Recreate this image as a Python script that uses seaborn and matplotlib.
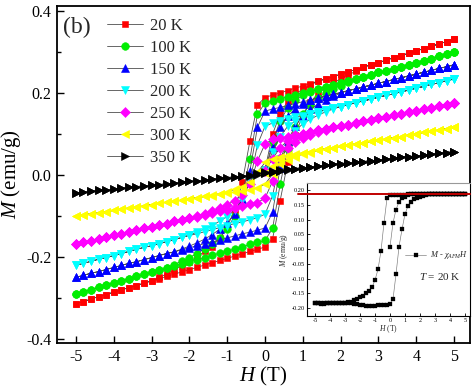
import matplotlib
matplotlib.use("Agg")
import matplotlib.pyplot as plt
import numpy as np
import pandas as pd
import seaborn as sns
from matplotlib.ticker import MultipleLocator, FormatStrFormatter

sns.set_theme(style="ticks")
plt.rcParams['font.family'] = ['Liberation Serif', 'DejaVu Serif']
plt.rcParams['mathtext.fontset'] = 'custom'
plt.rcParams['mathtext.rm'] = 'Liberation Serif'
plt.rcParams['mathtext.it'] = 'Liberation Serif:italic'
plt.rcParams['mathtext.bf'] = 'Liberation Serif:bold'
plt.rcParams['axes.unicode_minus'] = False

# ---------------- data ----------------
H_UP = [-5.0, -4.8, -4.6, -4.4, -4.2, -4.0, -3.8, -3.6, -3.4, -3.2, -3.0, -2.8, -2.6,
        -2.4, -2.2, -2.0, -1.8, -1.6, -1.4, -1.2, -1.0, -0.8, -0.6, -0.4, -0.2, 0.0,
        0.2, 0.4, 0.6, 0.8, 1.0, 1.2, 1.4, 1.6, 1.8, 2.0, 2.2, 2.4, 2.6, 2.8, 3.0,
        3.2, 3.4, 3.6, 3.8, 4.0, 4.2, 4.4, 4.6, 4.8, 5.0]
H_DOWN = H_UP[::-1]
H_VIRGIN = H_UP[25:]

TEMPS = ["20 K", "100 K", "150 K", "200 K", "250 K", "300 K", "350 K"]
COLORS = ["#FF0000", "#00EE00", "#0000FF", "#00FFFF", "#FF00FF", "#FFFF00", "#000000"]
MARKERS = ["s", "o", "^", "v", "D", "<", ">"]

# 20 K
M20_V = [0.013, 0.099, 0.148, 0.179, 0.197, 0.208, 0.218, 0.228, 0.233, 0.239, 0.245, 0.251, 0.256,
         0.262, 0.268, 0.273, 0.279, 0.285, 0.290, 0.296, 0.302, 0.307, 0.313, 0.319, 0.324, 0.330]
M20_D = [0.330, 0.324, 0.319, 0.313, 0.307, 0.302, 0.296, 0.290, 0.285, 0.279, 0.273, 0.268, 0.262,
         0.256, 0.251, 0.245, 0.239, 0.233, 0.228, 0.222, 0.216, 0.211, 0.205, 0.199, 0.194, 0.188,
         0.170, 0.082, -0.018, -0.085, -0.127, -0.155, -0.175, -0.187, -0.200, -0.213, -0.222, -0.231,
         -0.242, -0.250, -0.259, -0.264, -0.270, -0.275, -0.281, -0.286, -0.292, -0.297, -0.303, -0.309, -0.314]
M20_U = [-0.314, -0.309, -0.303, -0.297, -0.292, -0.286, -0.281, -0.275, -0.270, -0.264, -0.259, -0.253,
         -0.248, -0.242, -0.237, -0.231, -0.226, -0.220, -0.215, -0.209, -0.204, -0.198, -0.193, -0.187,
         -0.182, -0.176, -0.156, -0.063, 0.030, 0.097, 0.146, 0.177, 0.198, 0.212, 0.223, 0.234, 0.243,
         0.252, 0.262, 0.268, 0.273, 0.279, 0.285, 0.290, 0.296, 0.302, 0.307, 0.313, 0.319, 0.324, 0.330]

# 100 K
M100_V = [0.008, 0.080, 0.131, 0.163, 0.181, 0.193, 0.201, 0.209, 0.214, 0.219, 0.224, 0.229, 0.234,
          0.239, 0.244, 0.249, 0.253, 0.258, 0.263, 0.268, 0.273, 0.278, 0.283, 0.288, 0.293, 0.298]
M100_D = [0.298, 0.293, 0.288, 0.283, 0.278, 0.273, 0.268, 0.263, 0.258, 0.253, 0.249, 0.244, 0.239,
          0.234, 0.229, 0.224, 0.219, 0.214, 0.209, 0.204, 0.200, 0.195, 0.190, 0.185, 0.180, 0.175,
          0.147, 0.038, -0.048, -0.100, -0.132, -0.154, -0.169, -0.181, -0.192, -0.202, -0.210, -0.219,
          -0.228, -0.233, -0.238, -0.243, -0.248, -0.254, -0.259, -0.264, -0.269, -0.274, -0.280, -0.285, -0.290]
M100_U = [-0.290, -0.285, -0.280, -0.274, -0.269, -0.264, -0.259, -0.254, -0.248, -0.243, -0.238, -0.233,
          -0.228, -0.222, -0.217, -0.212, -0.207, -0.202, -0.196, -0.191, -0.186, -0.181, -0.176, -0.170,
          -0.165, -0.160, -0.131, -0.023, 0.063, 0.115, 0.149, 0.171, 0.188, 0.199, 0.209, 0.217, 0.226,
          0.234, 0.239, 0.244, 0.249, 0.253, 0.258, 0.263, 0.268, 0.273, 0.278, 0.283, 0.288, 0.293, 0.298]

# 150 K
M150_V = [0.013, 0.068, 0.116, 0.143, 0.160, 0.172, 0.182, 0.187, 0.191, 0.196, 0.200, 0.205, 0.209,
          0.214, 0.218, 0.223, 0.227, 0.232, 0.236, 0.241, 0.245, 0.250, 0.254, 0.259, 0.263, 0.268]
M150_D = [0.268, 0.263, 0.259, 0.254, 0.250, 0.245, 0.241, 0.236, 0.232, 0.227, 0.223, 0.218, 0.214,
          0.209, 0.205, 0.200, 0.196, 0.191, 0.187, 0.182, 0.178, 0.173, 0.169, 0.164, 0.160, 0.155,
          0.116, 0.009, -0.059, -0.095, -0.117, -0.133, -0.146, -0.157, -0.166, -0.174, -0.181,
          -0.188, -0.192, -0.197, -0.202, -0.207, -0.212, -0.216, -0.221, -0.226, -0.231, -0.236, -0.240, -0.245, -0.250]
M150_U = [-0.250, -0.245, -0.240, -0.236, -0.231, -0.226, -0.221, -0.216, -0.212, -0.207, -0.202, -0.197,
          -0.192, -0.188, -0.183, -0.178, -0.173, -0.168, -0.164, -0.159, -0.154, -0.149, -0.144, -0.140,
          -0.135, -0.130, -0.091, 0.016, 0.083, 0.119, 0.143, 0.159, 0.172, 0.183, 0.191, 0.199,
          0.205, 0.209, 0.214, 0.218, 0.223, 0.227, 0.232, 0.236, 0.241, 0.245, 0.250, 0.254, 0.259, 0.263, 0.268]

# 200 K
M200_V = [0.011, 0.056, 0.093, 0.118, 0.131, 0.141, 0.149, 0.153, 0.158, 0.162, 0.166, 0.171, 0.175,
          0.180, 0.184, 0.189, 0.193, 0.197, 0.202, 0.206, 0.211, 0.215, 0.220, 0.224, 0.229, 0.233]
M200_D = [0.233, 0.229, 0.224, 0.220, 0.215, 0.211, 0.206, 0.202, 0.197, 0.193, 0.189, 0.184, 0.180,
          0.175, 0.171, 0.166, 0.162, 0.158, 0.153, 0.149, 0.144, 0.140, 0.135, 0.131, 0.126, 0.118,
          0.073, -0.016, -0.061, -0.086, -0.102, -0.113, -0.124, -0.132, -0.140, -0.147,
          -0.153, -0.158, -0.163, -0.168, -0.173, -0.177, -0.182, -0.187, -0.192, -0.197, -0.202, -0.206,
          -0.211, -0.216, -0.221]
M200_U = [-0.221, -0.216, -0.211, -0.206, -0.202, -0.197, -0.192, -0.187, -0.182, -0.177, -0.173, -0.168,
          -0.163, -0.158, -0.153, -0.148, -0.144, -0.139, -0.134, -0.129, -0.124, -0.119, -0.115, -0.110,
          -0.105, -0.096, -0.051, 0.038, 0.082, 0.107, 0.124, 0.135, 0.145, 0.153, 0.160,
          0.166, 0.171, 0.175, 0.180, 0.184, 0.189, 0.193, 0.197, 0.202, 0.206, 0.211, 0.215, 0.220,
          0.224, 0.229, 0.233]

# 250 K
M250_V = [0.009, 0.039, 0.066, 0.083, 0.092, 0.099, 0.104, 0.108, 0.111, 0.115, 0.119, 0.122, 0.126,
          0.130, 0.134, 0.137, 0.141, 0.145, 0.148, 0.152, 0.156, 0.159, 0.163, 0.167, 0.170, 0.174]
M250_D = [0.174, 0.170, 0.167, 0.163, 0.159, 0.156, 0.152, 0.148, 0.145, 0.141, 0.137, 0.134, 0.130,
          0.126, 0.122, 0.119, 0.115, 0.111, 0.108, 0.104, 0.100, 0.097, 0.093, 0.089, 0.086, 0.075,
          0.034, -0.022, -0.049, -0.063, -0.073, -0.082, -0.089, -0.095, -0.101,
          -0.106, -0.110, -0.114, -0.119, -0.123, -0.127, -0.131, -0.135, -0.140, -0.144, -0.148,
          -0.152, -0.156, -0.161, -0.165, -0.169]
M250_U = [-0.169, -0.165, -0.161, -0.156, -0.152, -0.148, -0.144, -0.140, -0.135, -0.131, -0.127, -0.123,
          -0.119, -0.114, -0.110, -0.106, -0.102, -0.098, -0.093, -0.089, -0.085, -0.081, -0.077, -0.072,
          -0.068, -0.057, -0.016, 0.040, 0.066, 0.079, 0.089, 0.097, 0.104, 0.109,
          0.115, 0.119, 0.122, 0.126, 0.130, 0.134, 0.137, 0.141, 0.145, 0.148, 0.152, 0.156, 0.159,
          0.163, 0.167, 0.170, 0.174]

# 300 K
M300_V = [0.004, 0.020, 0.035, 0.043, 0.049, 0.053, 0.056, 0.060, 0.063, 0.066, 0.069, 0.072, 0.075,
          0.078, 0.081, 0.084, 0.087, 0.090, 0.093, 0.097, 0.100, 0.103, 0.106, 0.109, 0.112, 0.115]
M300_D = [0.115, 0.112, 0.109, 0.106, 0.103, 0.100, 0.097, 0.093, 0.090, 0.087, 0.084, 0.081, 0.078,
          0.075, 0.072, 0.069, 0.066, 0.063, 0.060, 0.056, 0.053, 0.050, 0.047, 0.044, 0.039, 0.030,
          0.006, -0.017, -0.029, -0.036, -0.042, -0.046, -0.050, -0.053,
          -0.056, -0.059, -0.062, -0.065, -0.067, -0.070, -0.073, -0.076, -0.079, -0.081, -0.084,
          -0.087, -0.090, -0.093, -0.095, -0.098, -0.101]
M300_U = [-0.101, -0.098, -0.095, -0.093, -0.090, -0.087, -0.084, -0.081, -0.079, -0.076, -0.073, -0.070,
          -0.067, -0.065, -0.062, -0.059, -0.056, -0.053, -0.051, -0.048, -0.045, -0.042, -0.039, -0.037,
          -0.032, -0.023, 0.001, 0.025, 0.037, 0.044, 0.050, 0.054, 0.059,
          0.063, 0.066, 0.069, 0.072, 0.075, 0.078, 0.081, 0.084, 0.087, 0.090, 0.093, 0.097, 0.100,
          0.103, 0.106, 0.109, 0.112, 0.115]

# 350 K
M350_V = [0.004, 0.007, 0.010, 0.013, 0.015, 0.017, 0.019, 0.021, 0.023, 0.025, 0.027, 0.029, 0.031,
          0.032, 0.034, 0.036, 0.038, 0.040, 0.042, 0.044, 0.046, 0.048, 0.050, 0.052, 0.054, 0.056]
M350_D = [0.056, 0.054, 0.052, 0.050, 0.048, 0.046, 0.044, 0.042, 0.040, 0.038, 0.036, 0.034, 0.032,
          0.031, 0.029, 0.027, 0.025, 0.023, 0.021, 0.019, 0.017, 0.015, 0.013, 0.011, 0.009, 0.006,
          0.003, -0.001, -0.003, -0.005, -0.007, -0.009, -0.011, -0.013, -0.015, -0.016, -0.018, -0.020,
          -0.022, -0.024, -0.026, -0.027, -0.029, -0.031, -0.033, -0.035, -0.037, -0.038, -0.040, -0.042, -0.044]
M350_U = [-0.044, -0.042, -0.040, -0.038, -0.037, -0.035, -0.033, -0.031, -0.029, -0.027, -0.026, -0.024,
          -0.022, -0.020, -0.018, -0.016, -0.015, -0.013, -0.011, -0.009, -0.007, -0.005, -0.004, -0.002,
          0.000, 0.003, 0.006, 0.010, 0.012, 0.015, 0.017, 0.019, 0.021, 0.023, 0.025, 0.027, 0.029,
          0.031, 0.032, 0.034, 0.036, 0.038, 0.040, 0.042, 0.044, 0.046, 0.048, 0.050, 0.052, 0.054, 0.056]

# inset: M - chi_AFM*H at 20 K
INSET_V = [0.008, 0.089, 0.134, 0.160, 0.172, 0.178, 0.182, 0.185, 0.187, 0.188, 0.188, 0.187, 0.187,
           0.186, 0.186, 0.186, 0.185, 0.186, 0.185, 0.185, 0.186, 0.185, 0.185, 0.186, 0.185, 0.185]
INSET_D = [0.185, 0.185, 0.186, 0.185, 0.185, 0.186, 0.185, 0.185, 0.186, 0.185, 0.186, 0.186, 0.187,
           0.187, 0.188, 0.188, 0.187, 0.186, 0.185, 0.185, 0.184, 0.184, 0.184, 0.184, 0.183, 0.182,
           0.172, 0.089, -0.006, -0.069, -0.105, -0.130, -0.142, -0.150, -0.158, -0.164, -0.169, -0.173,
           -0.178, -0.181, -0.183, -0.184, -0.184, -0.184, -0.183, -0.184, -0.184, -0.185, -0.184, -0.184, -0.184]
INSET_U = [-0.184, -0.184, -0.185, -0.184, -0.184, -0.183, -0.184, -0.184, -0.184, -0.184, -0.183, -0.184,
           -0.184, -0.185, -0.188, -0.190, -0.191, -0.192, -0.192, -0.192, -0.192, -0.191, -0.191, -0.190,
           -0.189, -0.187, -0.170, -0.085, 0.008, 0.067, 0.119, 0.146, 0.161, 0.168, 0.173, 0.177, 0.180,
           0.183, 0.185, 0.186, 0.186, 0.186, 0.185, 0.186, 0.185, 0.185, 0.186, 0.185, 0.185, 0.186, 0.185]

SERIES = [(M20_V, M20_D, M20_U), (M100_V, M100_D, M100_U), (M150_V, M150_D, M150_U),
          (M200_V, M200_D, M200_U), (M250_V, M250_D, M250_U), (M300_V, M300_D, M300_U),
          (M350_V, M350_D, M350_U)]
MSIZES = [5.0, 5.5, 6.0, 6.0, 4.6, 6.0, 6.0]


def loop_frame(mv, md, mu):
    h = H_VIRGIN + H_DOWN + H_UP
    m = mv + md + mu
    return pd.DataFrame({"H": h, "M": m})


# ---------------- figure ----------------
fig = plt.figure(figsize=(4.74, 3.89), dpi=100)
ax = fig.add_axes([0.1203, 0.1183, 0.8713, 0.8663])

for lab, (mv, md, mu), col, mk, ms in zip(TEMPS, SERIES, COLORS, MARKERS, MSIZES):
    df = loop_frame(mv, md, mu)
    sns.lineplot(data=df, x="H", y="M", sort=False, estimator=None, ax=ax,
                 color="#4d4d4d", linewidth=0.6, marker=mk, markersize=ms,
                 markerfacecolor=col, markeredgecolor=col, markeredgewidth=0.4,
                 label=lab)

ax.set_xlim(-5.5, 5.42)
ax.set_ylim(-0.41, 0.411)
ax.xaxis.set_major_locator(MultipleLocator(1))
ax.yaxis.set_major_locator(MultipleLocator(0.2))
ax.yaxis.set_minor_locator(MultipleLocator(0.1))
ax.yaxis.set_major_formatter(FormatStrFormatter('%.1f'))
ax.tick_params(which='both', direction='in', top=False, right=False, left=True, bottom=True,
               colors='black', width=1.0)
ax.tick_params(which='major', length=5, labelsize=11.5, pad=4)
ax.tick_params(which='minor', length=3)
for s in ax.spines.values():
    s.set_linewidth(1.3)
    s.set_color('black')
ax.set_xlabel(r'$H$ (T)', fontsize=15, labelpad=0, color='black')
ax.set_ylabel(r'$M$ (emu/g)', fontsize=15, color='black')
ax.yaxis.set_label_coords(-0.082, 0.5)

handles, labels = ax.get_legend_handles_labels()
ax.legend(handles, labels, loc='upper left', bbox_to_anchor=(0.121, 0.964), frameon=False,
          fontsize=12, handlelength=2.15, handletextpad=0.42, labelspacing=0.36,
          borderpad=0, borderaxespad=0)
ax.text(0.015, 0.937, '(b)', transform=ax.transAxes, fontsize=17, va='center', ha='left')

# ---------------- inset ----------------
ax_in = fig.add_axes([0.6477, 0.1877, 0.3439, 0.3419])
ax_in.set_zorder(5)
ax_in.set_facecolor('white')
df_in = loop_frame(INSET_V, INSET_D, INSET_U)
sns.lineplot(data=df_in, x="H", y="M", sort=False, estimator=None, ax=ax_in,
             color="#777777", linewidth=0.45, marker="s", markersize=2.2,
             markerfacecolor="black", markeredgecolor="black", markeredgewidth=0.2,
             label=r'$M$ - $\chi_{AFM}H$')
ax_in.axhline(0.187, xmin=-0.057, xmax=1.0, color='#C00000', linewidth=1.4,
              clip_on=False, zorder=6)
ax_in.set_xlim(-5.53, 5.33)
ax_in.set_ylim(-0.227, 0.224)
ax_in.xaxis.set_major_locator(MultipleLocator(1))
ax_in.yaxis.set_major_locator(MultipleLocator(0.05))
ax_in.yaxis.set_major_formatter(FormatStrFormatter('%.2f'))
ax_in.xaxis.set_major_formatter(FormatStrFormatter('%d'))
ax_in.tick_params(which='both', direction='in', top=False, right=False, left=True, bottom=True,
                  length=2, width=0.6, labelsize=4.5, pad=1.5, colors='black')
for s in ax_in.spines.values():
    s.set_linewidth(0.8)
    s.set_color('black')
ax_in.spines['top'].set_color('#999999')
ax_in.set_xlabel(r'$H$ (T)', fontsize=5.5, labelpad=0.5)
ax_in.set_ylabel(r'$M$ (emu/g)', fontsize=5.5, labelpad=1)
h_in, l_in = ax_in.get_legend_handles_labels()
ax_in.legend(h_in, l_in, loc='center left', bbox_to_anchor=(0.60, 0.455), frameon=False,
             fontsize=6, handlelength=2.6, handletextpad=0.4, borderpad=0, borderaxespad=0)
ax_in.text(0.815, 0.30, r'$T$ = 20 K', transform=ax_in.transAxes, fontsize=8,
           ha='center', va='center')

fig.savefig("out.png", dpi=100)
